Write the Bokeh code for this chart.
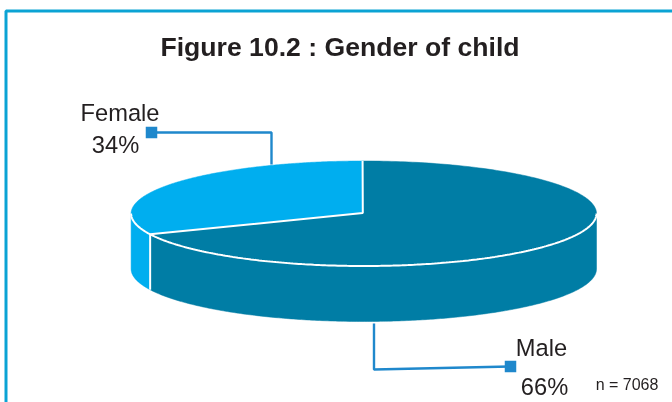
import numpy as np
from bokeh.plotting import figure
from bokeh.embed import file_html
from bokeh.resources import INLINE
from bokeh.core.properties import value

# Data
categories = ["Female", "Male"]
percent_labels = ["34%", "66%"]
# Share of the ellipse each slice visibly takes in the tilted 3D drawing
drawn_shares = [31.4, 68.6]
title = "Figure 10.2 : Gender of child"
note = "n = 7068"

# Style / layout (page pixels)
W, H = 672, 402
FEMALE, MALE = "#00AEEF", "#007DA5"
BORDER, LEADER, INK = "#0BA3D4", "#1F88CC", "#231F20"
CX, CY, RX, RY, DEPTH = 363.3, 213.0, 232.7, 52.5, 55.5
FONT = value("Liberation Sans")

p = figure(width=W, height=H, x_range=(0, W), y_range=(H, 0),
           x_axis_type=None, y_axis_type=None, toolbar_location=None,
           output_backend="svg", min_border=0, outline_line_color=None,
           background_fill_color="white", border_fill_color="white")
p.grid.visible = False
p.styles = {"position": "fixed", "left": "0px", "top": "0px"}


def pt(a, dy=0.0):
    """a: degrees counterclockwise from 12 o'clock."""
    r = np.radians(a)
    return CX - RX * np.sin(r), CY - RY * np.cos(r) + dy


def arc(a0, a1, dy=0.0):
    return pt(np.linspace(a0, a1, 240), dy)


start = 0.3
boundary = start + 360 * drawn_shares[0] / sum(drawn_shares)

# side walls: only the part of each slice facing the viewer (90..270 ccw)
for a0, a1, col in [(90, boundary, FEMALE), (boundary, 270, MALE)]:
    xt, yt = arc(a0, a1)
    xb, yb = arc(a1, a0, DEPTH)
    p.patch(np.r_[xt, xb], np.r_[yt, yb], fill_color=col, line_color=col, line_width=0.5)

# top faces, built from the shares
hub_x, hub_y = CX - 1.0, CY - 0.5
for a0, a1, col in [(start, boundary, FEMALE), (boundary, start + 360, MALE)]:
    x, y = arc(a0, a1)
    p.patch(np.r_[hub_x, x], np.r_[hub_y, y], fill_color=col, line_color=col, line_width=0.5)

# white separators
xf, yf = arc(90, 270)
p.line(xf, yf, line_color="white", line_width=2)
ex, ey = pt(boundary)
sx, sy = pt(start)
p.line([sx, hub_x, ex], [sy, hub_y, ey], line_color="white", line_width=2)
p.line([ex, ex], [ey, ey + DEPTH], line_color="white", line_width=2)

# outer frame: left and top edges only
p.line([5.5, 5.5, W], [H, 10.5, 10.5], line_color=BORDER, line_width=3)

# leaders
p.line([151, 271, 271], [132, 132, 164], line_color=LEADER, line_width=2.4)
p.line([373.5, 373.5, 510], [323, 369, 366], line_color=LEADER, line_width=2.4)
p.scatter([151, 510], [132, 366], size=11.5, marker="square", fill_color=LEADER, line_color=None)

# text
p.text([339.5], [46], text=[title], text_font=FONT, text_font_style="bold",
       text_font_size="26.6px", text_color=INK, text_align="center", text_baseline="middle")
p.text([119.5, 115], [112.5, 144.5], text=[categories[0], percent_labels[0]], text_font=FONT,
       text_font_size="23.7px", text_color=INK, text_align="center", text_baseline="middle")
p.text([541, 544], [347.5, 386], text=[categories[1], percent_labels[1]], text_font=FONT,
       text_font_size="23.7px", text_color=INK, text_align="center", text_baseline="middle")
p.text([626.5], [384], text=[note], text_font=FONT, text_font_size="16px", text_color=INK,
       text_align="center", text_baseline="middle")

open("out.html", "w").write(file_html(p, INLINE))
